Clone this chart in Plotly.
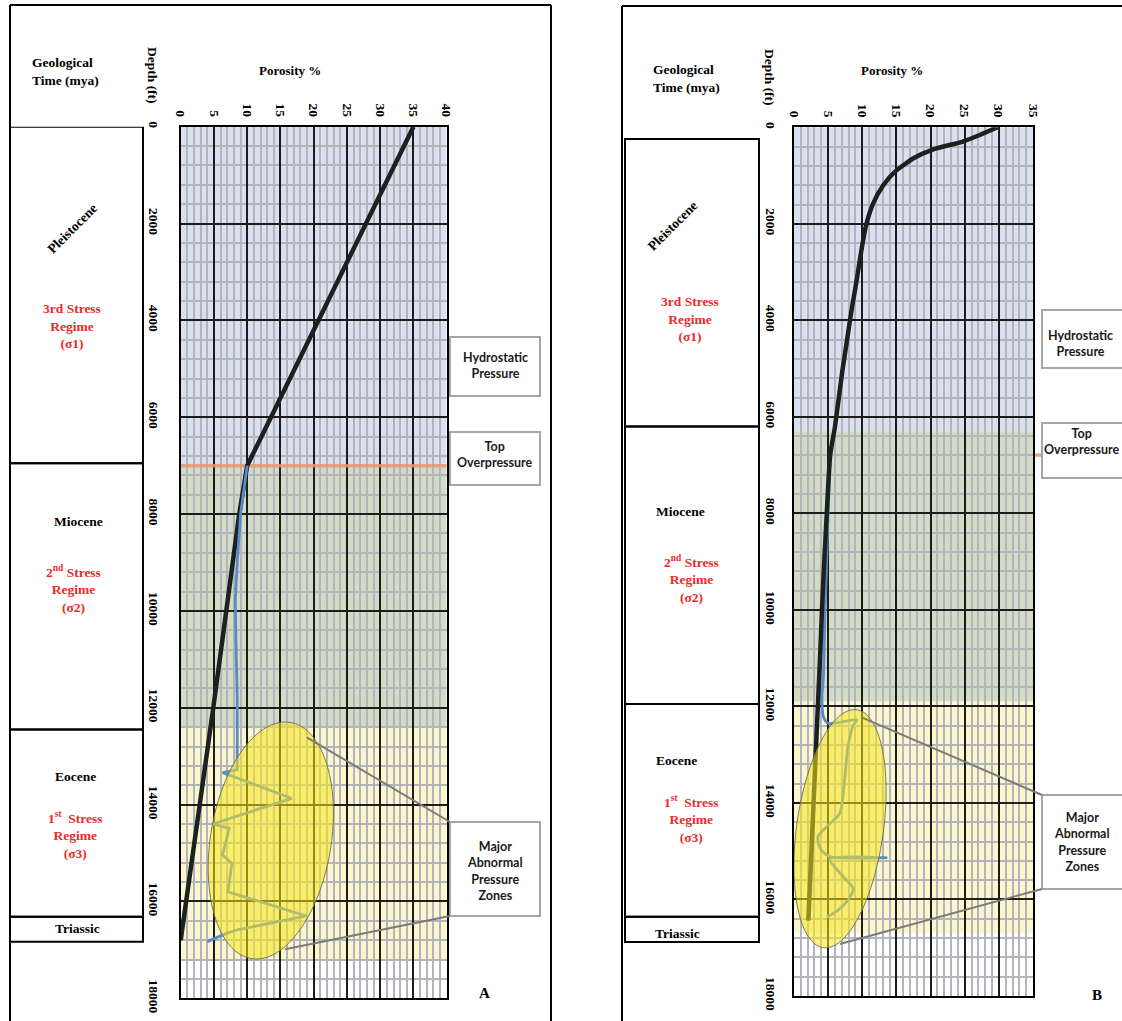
import numpy as np
import plotly.graph_objects as go

W, H = 1122, 1021

# ---------------- data ----------------
A_por_ticks = [0, 5, 10, 15, 20, 25, 30, 35, 40]
B_por_ticks = [0, 5, 10, 15, 20, 25, 30, 35]
depth_ticks = [0, 2000, 4000, 6000, 8000, 10000, 12000, 14000, 16000, 18000]

# Panel A: normal compaction trend (black) and porosity log (blue)
A_trend_depth = [0, 7000, 8000, 12000, 16800]
A_trend_por = [35, 10, 8.8, 4.9, 0]
A_log_depth = [7000, 7500, 8000, 9000, 9800, 10600, 11800, 13280, 13340, 13870,
               14400, 14490, 14590, 15040, 15210, 15800, 16300, 16580, 16660, 16830]
A_log_por = [10, 9.5, 9.0, 8.5, 8.2, 8.3, 8.5, 8.5, 6.3, 16.7,
             4.8, 7.3, 7.1, 6.3, 7.7, 7.1, 18.9, 8.7, 6.9, 4.0]

# Panel B
B_trend_depth = [0, 160, 300, 456, 642, 920, 1196, 1575, 2060, 2611, 3233, 3854,
                 4476, 5029, 6204, 6790, 8000, 9656, 11038, 12282, 16440]
B_trend_por = [29.8, 27.2, 24.6, 20.4, 17.5, 14.8, 13.1, 11.6, 10.5, 9.8, 9.1, 8.35,
               7.7, 7.1, 6.0, 5.3, 4.8, 4.2, 3.8, 3.4, 2.1]
B_log_depth = [6790, 8000, 10000, 11400, 11800, 12210, 12350, 12280, 12385, 12835,
               13525, 14215, 14490, 14700, 14940, 15110, 15135, 15160, 15490, 15770,
               16010, 16220, 16370]
B_log_por = [5.3, 5.0, 4.55, 4.3, 4.1, 4.3, 5.0, 9.2, 8.7, 7.9,
             7.4, 6.7, 4.8, 3.5, 3.8, 5.25, 13.5, 5.25, 6.95, 8.65,
             7.9, 6.45, 4.8]

# Pressure zones (depth, ft)
A_top_overpressure = 7000
B_top_overpressure = 6790
A_zone_bounds = [0, 7000, 12400, 17200]
B_zone_bounds = [0, 6300, 11900, 16700]

# Geological time column
era_names = ["Pleistocene", "Miocene", "Eocene", "Triassic"]
A_era_bounds = [0, 6950, 12450, 16315, 16830]
B_era_bounds = [240, 6200, 11950, 16360, 16880]
regime_text = ["3rd Stress<br>Regime<br>(σ1)",
               "2<sup>nd</sup> Stress<br>Regime<br>(σ2)",
               "1<sup>st</sup>  Stress<br>Regime<br>(σ3)"]

# ---------------- styling ----------------
SERIF = "Liberation Serif, Times New Roman, serif"
SANS = "Lato, Carlito, Calibri, sans-serif"
ZONE_COLORS = ["#d9e1f1", "#d3dac6", "#fbf6cd"]
MAJOR_GRID = "#1c1c1c"
MINOR_GRID = "#b3b5ba"
RED = "#ee2a2a"


def px(x):
    return x / W


def py(y):
    return 1 - y / H


fig = go.Figure()

fig.add_trace(go.Scatter(x=A_trend_por, y=A_trend_depth, mode="lines",
                         line=dict(color="#1b211f", width=4.5), xaxis="x", yaxis="y",
                         showlegend=False, hoverinfo="skip"))
fig.add_trace(go.Scatter(x=A_log_por, y=A_log_depth, mode="lines",
                         line=dict(color="#5b8bc6", width=2.8), xaxis="x", yaxis="y",
                         showlegend=False, hoverinfo="skip"))
fig.add_trace(go.Scatter(x=B_log_por, y=B_log_depth, mode="lines",
                         line=dict(color="#5b8bc6", width=2.8, shape="spline", smoothing=0.7),
                         xaxis="x2", yaxis="y2", showlegend=False, hoverinfo="skip"))
fig.add_trace(go.Scatter(x=B_trend_por, y=B_trend_depth, mode="lines",
                         line=dict(color="#1b211f", width=4.5, shape="spline", smoothing=0.6),
                         xaxis="x2", yaxis="y2", showlegend=False, hoverinfo="skip"))

shapes = []
annots = []

# coloured pressure zones behind the grid
for xr, yr, bounds, xmax in (("x", "y", A_zone_bounds, 40), ("x2", "y2", B_zone_bounds, 35)):
    for i, col in enumerate(ZONE_COLORS):
        shapes.append(dict(type="rect", xref=xr, yref=yr, x0=0, x1=xmax,
                           y0=bounds[i], y1=bounds[i + 1], fillcolor=col,
                           line=dict(width=0), layer="below"))

# top of overpressure
shapes.append(dict(type="line", xref="x", yref="y", x0=0, x1=40,
                   y0=A_top_overpressure, y1=A_top_overpressure,
                   line=dict(color="rgba(232,150,110,0.85)", width=3.5), layer="between"))
shapes.append(dict(type="line", xref="paper", yref="y2", x0=px(798), x1=px(1042),
                   y0=B_top_overpressure, y1=B_top_overpressure,
                   line=dict(color="rgba(232,150,110,0.85)", width=3.5), layer="between"))


def ellipse_path(c, u, v, n=90):
    t = np.linspace(0, 2 * np.pi, n, endpoint=False)
    xs = c[0] + u[0] * np.cos(t) + v[0] * np.sin(t)
    ys = c[1] + u[1] * np.cos(t) + v[1] * np.sin(t)
    return "M " + " L ".join(f"{a:.3f},{b:.1f}" for a, b in zip(xs, ys)) + " Z"


ELL_FILL = "rgba(248,232,30,0.55)"
ELL_LINE = "rgba(110,110,90,0.9)"
shapes.append(dict(type="path", xref="x", yref="y",
                   path=ellipse_path((13.55, 14741), (1.13, -2432), (9.35, -275)),
                   fillcolor=ELL_FILL, line=dict(color=ELL_LINE, width=1), layer="above"))
shapes.append(dict(type="path", xref="x2", yref="y2",
                   path=ellipse_path((6.74, 14534), (1.21, -2445), (6.64, -345)),
                   fillcolor=ELL_FILL, line=dict(color=ELL_LINE, width=1), layer="above"))

# outer frames
FRAME = dict(color="black", width=2)
for (x0, y0, x1, y1) in [(10, 5, 551, 5), (10, 5, 10, 1021), (551, 5, 551, 1021),
                         (622, 6, 1122, 6), (622, 6, 622, 1021)]:
    shapes.append(dict(type="line", xref="paper", yref="paper", x0=px(x0), x1=px(x1),
                       y0=py(y0), y1=py(y1), line=FRAME))

# geological time column
for yr, bounds, xl, xr in (("y", A_era_bounds, 10, 143), ("y2", B_era_bounds, 625, 759)):
    for i in range(len(era_names)):
        shapes.append(dict(type="rect", xref="paper", yref=yr, x0=px(xl), x1=px(xr),
                           y0=bounds[i], y1=bounds[i + 1],
                           line=dict(color="black", width=2), fillcolor="rgba(0,0,0,0)"))

# callout boxes and leader lines
BOX_LINE = dict(color="#a6a6a6", width=2)
LEAD_LINE = dict(color="#7b7b7b", width=2)
for (x0, y0, x1, y1) in [(450, 337, 540, 396), (450, 432, 540, 485), (450, 822, 540, 916),
                         (1042, 310, 1140, 368), (1042, 423, 1140, 478), (1042, 795, 1140, 889)]:
    shapes.append(dict(type="rect", xref="paper", yref="paper", x0=px(x0), x1=px(x1),
                       y0=py(y0), y1=py(y1), line=BOX_LINE, fillcolor="white", layer="above"))
for (x0, y0, x1, y1) in [(306.7, 737.3, 450, 822), (285, 949.3, 450, 916),
                         (861.7, 717.3, 1042, 795), (840, 944, 1042, 889)]:
    shapes.append(dict(type="line", xref="paper", yref="paper", x0=px(x0), x1=px(x1),
                       y0=py(y0), y1=py(y1), line=LEAD_LINE, layer="above"))


def note(x, y, text, size=13.5, color="black", family=SERIF, angle=0, bold=True, align="center"):
    annots.append(dict(x=px(x), y=py(y), xref="paper", yref="paper", text=text,
                       showarrow=False, textangle=angle, align=align,
                       xanchor="center", yanchor="middle",
                       font=dict(family=family, size=size, color=color,
                                 weight="bold" if bold else "normal")))


# headers
note(65, 72, "Geological<br>Time (mya)", align="left")
note(153, 75, "Depth (ft)", angle=90)
note(290, 71, "Porosity %", size=13)
note(686, 79, "Geological<br>Time (mya)", align="left")
note(770, 77, "Depth (ft)", angle=90)
note(892, 71, "Porosity %", size=13)

# era labels
note(72, 228, era_names[0], angle=-45)
note(72, 326, regime_text[0], color=RED)
note(78, 521, era_names[1])
note(73, 589, regime_text[1], color=RED)
note(75, 776, era_names[2])
note(75, 835, regime_text[2], color=RED)
note(77, 928, era_names[3])

note(673, 226, era_names[0], angle=-45)
note(690, 319, regime_text[0], color=RED)
note(680, 511, era_names[1])
note(692, 579, regime_text[1], color=RED)
note(676, 760, era_names[2])
note(692, 819, regime_text[2], color=RED)
note(677, 933, era_names[3])

# callout text
note(495, 365, "Hydrostatic<br>Pressure", size=12.5, family=SANS, color="#1a1a1a")
note(495, 455, "Top<br>Overpressure", size=12.5, family=SANS, color="#1a1a1a")
note(495, 871, "Major<br>Abnormal<br>Pressure<br>Zones", size=12.5, family=SANS, color="#1a1a1a")
note(1080, 343, "Hydrostatic<br>Pressure", size=12.5, family=SANS, color="#1a1a1a")
note(1082, 441, "Top<br>Overpressure", size=12.5, family=SANS, color="#1a1a1a")
note(1082, 842, "Major<br>Abnormal<br>Pressure<br>Zones", size=12.5, family=SANS, color="#1a1a1a")

note(484, 993, "A", size=15)
note(1097, 995, "B", size=15)

TICKFONT = dict(family=SERIF, size=13.5, color="black", weight="bold")


def xaxis_style(domain, rng, ticks, anchor):
    return dict(domain=domain, range=rng, anchor=anchor, side="top",
                tickmode="array", tickvals=ticks, ticktext=[str(t) for t in ticks],
                tickangle=90, tickfont=TICKFONT, ticks="", ticklabelstandoff=3,
                showgrid=True, gridcolor=MAJOR_GRID, gridwidth=2,
                minor=dict(dtick=1, tick0=0, showgrid=True, gridcolor=MINOR_GRID, gridwidth=1.5),
                showline=True, linecolor="black", linewidth=2, mirror=True,
                zeroline=False, fixedrange=True)


def yaxis_style(domain, anchor, standoff):
    return dict(domain=domain, range=[18000, 0], anchor=anchor,
                tickmode="array", tickvals=depth_ticks, ticktext=[str(t) for t in depth_ticks],
                tickangle=90, tickfont=TICKFONT, ticks="", ticklabelstandoff=standoff,
                showgrid=True, gridcolor=MAJOR_GRID, gridwidth=2,
                minor=dict(dtick=400, tick0=0, showgrid=True, gridcolor=MINOR_GRID, gridwidth=1.5),
                showline=True, linecolor="black", linewidth=2, mirror=True,
                zeroline=False, fixedrange=True)


fig.update_layout(
    width=W, height=H, margin=dict(l=0, r=0, t=0, b=0, autoexpand=False),
    paper_bgcolor="white", plot_bgcolor="white", showlegend=False,
    xaxis=xaxis_style([px(180.7), px(446.7)], [0, 40], A_por_ticks, "y"),
    yaxis=yaxis_style([py(998.3), py(126.7)], "x", 13),
    xaxis2=xaxis_style([px(794), px(1033)], [0, 35], B_por_ticks, "y2"),
    yaxis2=yaxis_style([py(996), py(127.3)], "x2", 10),
    shapes=shapes, annotations=annots,
)

fig.write_html("out.html")
